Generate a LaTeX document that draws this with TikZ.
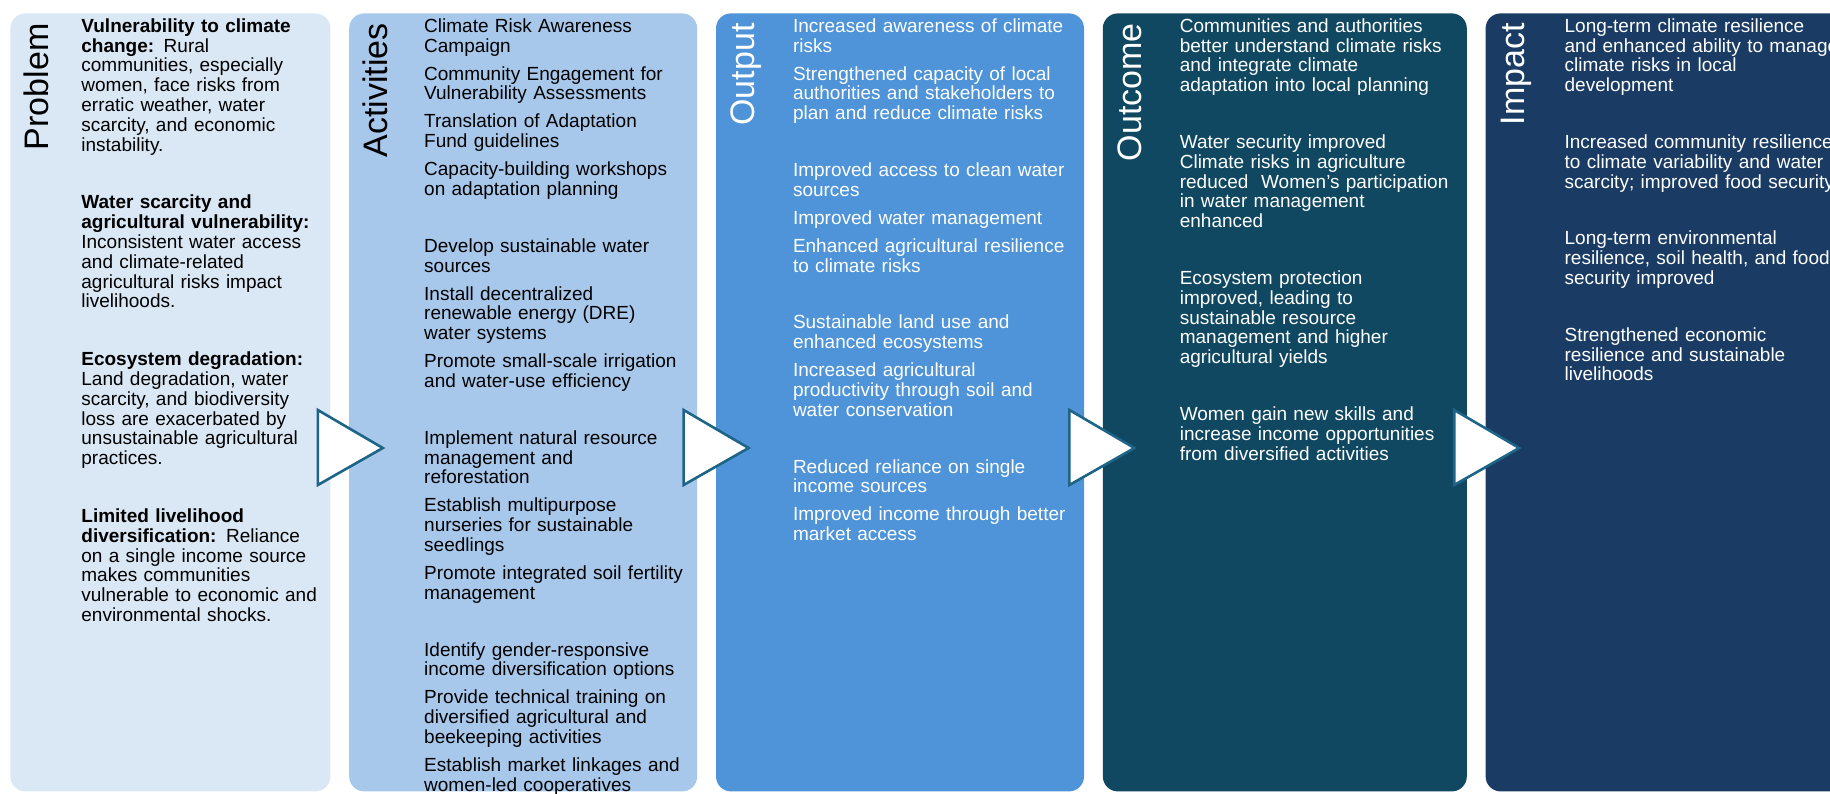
\documentclass[tikz,border=0pt]{standalone}
\usepackage{fontspec}
\setmainfont{Liberation Sans}
\usetikzlibrary{positioning,calc}

\definecolor{probfill}{HTML}{DAE8F5}
\definecolor{actfill}{HTML}{A7C8EB}
\definecolor{outfill}{HTML}{4F94D8}
\definecolor{outcfill}{HTML}{104862}
\definecolor{impfill}{HTML}{1A3C64}
\definecolor{tribord}{HTML}{1D6487}

\newcommand\boxtextfont{\fontsize{9.5pt}{9.9pt}\selectfont}
\newcommand\boxheadfont{\fontsize{17pt}{20pt}\selectfont}

\begin{document}
\begin{tikzpicture}[x=0.5pt, y=0.5pt,
    panel/.style={rounded corners=7.5pt, inner sep=0, minimum height=389pt},
    head/.style={rotate=90, anchor=base east, inner sep=0, font=\boxheadfont},
    item/.style={anchor=north west, inner sep=0, align=left, font=\boxtextfont,
                 execute at begin node=\strut, execute at end node=\strut},
    probtext/.style={item, text width=125pt, text=black},
    acttext/.style={item, text width=137.5pt, text=black},
    outtext/.style={item, text width=145pt, text=white},
    outctext/.style={item, text width=142.5pt, text=white},
    imptext/.style={item, text width=150pt, text=white},
    nextitem/.style={below=3.7pt of #1},
    nextgroup/.style={below=18.1pt of #1},
    tri/.style={draw=tribord, fill=white, line width=1.3pt, line join=miter}]

\useasboundingbox (0,0) rectangle (1830,-793);
\clip (0,0) rectangle (1830,-793);

% panels
\node[panel, anchor=north west, fill=probfill, minimum width=160pt] (prob) at (10,-13) {};
\node[panel, fill=actfill, minimum width=174pt] (act) [right=9pt of prob] {};
\node[panel, fill=outfill, minimum width=184pt] (out) [right=9pt of act] {};
\node[panel, fill=outcfill, minimum width=182pt] (outc) [right=9pt of out] {};
\node[panel, fill=impfill, minimum width=189pt] (imp) [right=9pt of outc] {};

% arrows between panels
\draw[tri] ($(prob.north east)+(-13,-397)$) -- ++(65,-38) -- ++(-65,-37) -- cycle;
\draw[tri] ($(act.north east)+(-14,-397)$) -- ++(65,-38) -- ++(-65,-37) -- cycle;
\draw[tri] ($(out.north east)+(-15,-397)$) -- ++(65,-38) -- ++(-65,-37) -- cycle;
\draw[tri] ($(outc.north east)+(-13,-397)$) -- ++(65,-38) -- ++(-65,-37) -- cycle;

% headings
\node[head, text=black] (probhead) at ([shift={(38,-10)}]prob.north west) {Problem};
\node[head, text=black] (acthead) at ([shift={(39,-10)}]act.north west) {Activities};
\node[head, text=white] (outhead) at ([shift={(39,-10)}]out.north west) {Output};
\node[head, text=white] (outchead) at ([shift={(39,-10)}]outc.north west) {Outcome};
\node[head, text=white] (imphead) at ([shift={(39,-10)}]imp.north west) {Impact};

% problem
\node[probtext] (p1) at ([shift={(71,-5)}]prob.north west) {\textbf{Vulnerability to climate}\\\textbf{change:} Rural\\communities, especially\\women, face risks from\\erratic weather, water\\scarcity, and economic\\instability.};
\node[probtext, below=18.6pt of p1] (p2) {\textbf{Water scarcity and}\\\textbf{agricultural vulnerability:}\\Inconsistent water access\\and climate-related\\agricultural risks impact\\livelihoods.};
\node[probtext, below=18.6pt of p2] (p3) {\textbf{Ecosystem degradation:}\\Land degradation, water\\scarcity, and biodiversity\\loss are exacerbated by\\unsustainable agricultural\\practices.};
\node[probtext, below=18.6pt of p3] (p4) {\textbf{Limited livelihood}\\\textbf{diversification:} Reliance\\on a single income source\\makes communities\\vulnerable to economic and\\environmental shocks.};

% activities
\node[acttext] (a1) at ([shift={(75,-5)}]act.north west) {Climate Risk Awareness\\Campaign};
\node[acttext, nextitem=a1] (a2) {Community Engagement for\\Vulnerability Assessments};
\node[acttext, nextitem=a2] (a3) {Translation of Adaptation\\Fund guidelines};
\node[acttext, nextitem=a3] (a4) {Capacity-building workshops\\on adaptation planning};
\node[acttext, nextgroup=a4] (a5) {Develop sustainable water\\sources};
\node[acttext, nextitem=a5] (a6) {Install decentralized\\renewable energy (DRE)\\water systems};
\node[acttext, nextitem=a6] (a7) {Promote small-scale irrigation\\and water-use efficiency};
\node[acttext, nextgroup=a7] (a8) {Implement natural resource\\management and\\reforestation};
\node[acttext, nextitem=a8] (a9) {Establish multipurpose\\nurseries for sustainable\\seedlings};
\node[acttext, nextitem=a9] (a10) {Promote integrated soil fertility\\management};
\node[acttext, nextgroup=a10] (a11) {Identify gender-responsive\\income diversification options};
\node[acttext, nextitem=a11] (a12) {Provide technical training on\\diversified agricultural and\\beekeeping activities};
\node[acttext, nextitem=a12] (a13) {Establish market linkages and\\women-led cooperatives};

% output
\node[outtext] (o1) at ([shift={(77,-5)}]out.north west) {Increased awareness of climate\\risks};
\node[outtext, nextitem=o1] (o2) {Strengthened capacity of local\\authorities and stakeholders to\\plan and reduce climate risks};
\node[outtext, nextgroup=o2] (o3) {Improved access to clean water\\sources};
\node[outtext, nextitem=o3] (o4) {Improved water management};
\node[outtext, nextitem=o4] (o5) {Enhanced agricultural resilience\\to climate risks};
\node[outtext, nextgroup=o5] (o6) {Sustainable land use and\\enhanced ecosystems};
\node[outtext, nextitem=o6] (o7) {Increased agricultural\\productivity through soil and\\water conservation};
\node[outtext, nextgroup=o7] (o8) {Reduced reliance on single\\income sources};
\node[outtext, nextitem=o8] (o9) {Improved income through better\\market access};

% outcome
\node[outctext] (c1) at ([shift={(77,-5)}]outc.north west) {Communities and authorities\\better understand climate risks\\and integrate climate\\adaptation into local planning};
\node[outctext, nextgroup=c1] (c2) {Water security improved\\Climate risks in agriculture\\reduced~ Women's participation\\in water management\\enhanced};
\node[outctext, nextgroup=c2] (c3) {Ecosystem protection\\improved, leading to\\sustainable resource\\management and higher\\agricultural yields};
\node[outctext, nextgroup=c3] (c4) {Women gain new skills and\\increase income opportunities\\from diversified activities};

% impact
\node[imptext] (m1) at ([shift={(79,-5)}]imp.north west) {Long-term climate resilience\\and enhanced ability to manage\\climate risks in local\\development};
\node[imptext, nextgroup=m1] (m2) {Increased community resilience\\to climate variability and water\\scarcity; improved food security};
\node[imptext, nextgroup=m2] (m3) {Long-term environmental\\resilience, soil health, and food\\security improved};
\node[imptext, nextgroup=m3] (m4) {Strengthened economic\\resilience and sustainable\\livelihoods};

\end{tikzpicture}
\end{document}
